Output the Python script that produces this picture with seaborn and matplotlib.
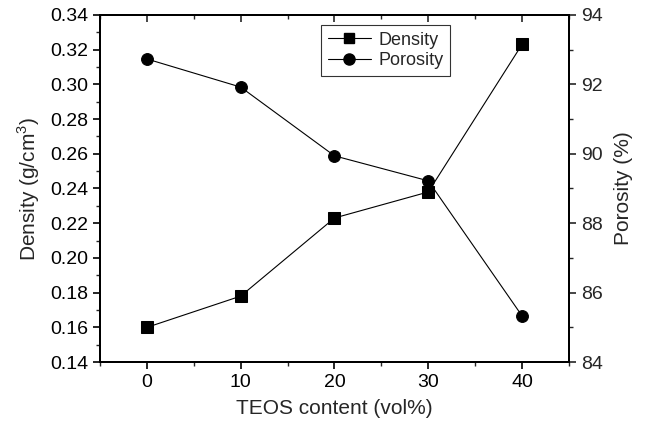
import matplotlib
matplotlib.use("Agg")
import matplotlib.pyplot as plt
import seaborn as sns
import pandas as pd
from matplotlib.ticker import MultipleLocator, FormatStrFormatter, NullFormatter
from matplotlib.lines import Line2D

teos = [0, 10, 20, 30, 40]
density = [0.160, 0.178, 0.223, 0.238, 0.323]
porosity = [92.73, 91.92, 89.94, 89.22, 85.33]

sns.set_style("ticks")
plt.rcParams['font.family'] = ['Liberation Sans', 'DejaVu Sans']
plt.rcParams['mathtext.fontset'] = 'custom'
plt.rcParams['mathtext.rm'] = 'Liberation Sans'

df = pd.DataFrame({"teos": teos, "density": density, "porosity": porosity})

fig = plt.figure(figsize=(6.51, 4.25), dpi=100)
ax = fig.add_axes([0.1536, 0.148, 0.7204, 0.817])
ax2 = ax.twinx()

sns.lineplot(data=df, x="teos", y="density", ax=ax, color="black", lw=0.8,
             marker="s", markersize=8, markeredgecolor="black")
sns.lineplot(data=df, x="teos", y="porosity", ax=ax2, color="black", lw=0.8,
             marker="o", markersize=8.5, markeredgecolor="black")

ax.set_xlim(-5, 45)
ax.set_ylim(0.14, 0.34)
ax2.set_ylim(84, 94)
ax.xaxis.set_major_locator(MultipleLocator(10))
ax.xaxis.set_minor_locator(MultipleLocator(5))
ax.yaxis.set_major_locator(MultipleLocator(0.02))
ax.yaxis.set_minor_locator(MultipleLocator(0.01))
ax2.yaxis.set_major_locator(MultipleLocator(2))
ax2.yaxis.set_minor_locator(MultipleLocator(1))
ax.yaxis.set_major_formatter(FormatStrFormatter('%.2f'))

for a in (ax, ax2):
    for s in a.spines.values():
        s.set_linewidth(1.4)
        s.set_color("black")
        s.set_visible(True)

ax.tick_params(axis='both', which='major', direction='out', length=5, width=1.2, labelsize=14, colors='black')
ax.tick_params(axis='both', which='minor', direction='out', length=3, width=1.0)
ax2.tick_params(axis='y', which='major', direction='out', length=5, width=1.2, labelsize=14)
ax2.tick_params(axis='y', which='minor', direction='out', length=3, width=1.0)

top = ax.secondary_xaxis('top')
top.xaxis.set_major_locator(MultipleLocator(10))
top.xaxis.set_minor_locator(MultipleLocator(5))
top.xaxis.set_major_formatter(NullFormatter())
top.tick_params(which='major', direction='in', length=5, width=1.2)
top.tick_params(which='minor', direction='in', length=3, width=1.0)
top.spines['top'].set_linewidth(1.4)

ax.set_xlabel("TEOS content (vol%)", fontsize=15, labelpad=6)
ax.set_ylabel("Density (g/cm$^3$)", fontsize=15, labelpad=6)
ax2.set_ylabel("Porosity (%)", fontsize=15, labelpad=8)

handles = [Line2D([], [], color='black', lw=0.8, marker='s', markersize=7),
           Line2D([], [], color='black', lw=0.8, marker='o', markersize=8)]
leg = ax.legend(handles, ["Density", "Porosity"], loc='upper left',
                bbox_to_anchor=(0.472, 0.97), fontsize=13, frameon=True,
                fancybox=False, edgecolor='black', handlelength=2.4,
                borderpad=0.35, labelspacing=0.2, handletextpad=0.4,
                borderaxespad=0)
leg.get_frame().set_linewidth(0.8)

fig.savefig("out.png", dpi=100)
